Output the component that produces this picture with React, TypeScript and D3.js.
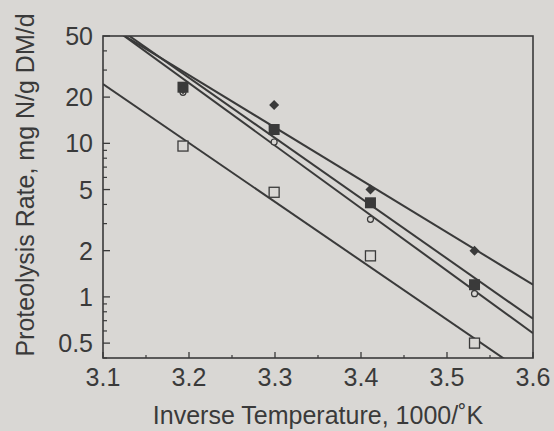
import React from "react";
import * as d3 from "d3";

const xTickValues = [3.1, 3.2, 3.3, 3.4, 3.5, 3.6];
const xMinorTicks = [3.15, 3.25, 3.35, 3.45, 3.55];
const yTickLabels = [0.5, 1, 2, 5, 10, 20, 50];
const yMinorTicks = [0.4, 0.6, 0.7, 0.8, 0.9, 3, 4, 6, 7, 8, 9, 30, 40];

const temps = [3.193, 3.299, 3.411, 3.532];
const diamondVals = [22.5, 17.8, 5.0, 2.0];
const filledSquareVals = [23.2, 12.3, 4.1, 1.2];
const openCircleVals = [21.5, 10.2, 3.2, 1.05];
const openSquareVals = [9.6, 4.8, 1.85, 0.5];

// regression lines: value at x=3.1 and x=3.6
const lineX = [3.1, 3.6];
const diamondLine = [61, 1.2];
const filledSquareLine = [66, 0.72];
const openCircleLine = [63, 0.58];
const openSquareLine = [24.3, 0.294];

const W = 554, H = 431;
const M = { left: 103, right: 533, top: 36, bottom: 358 };
const ink = "#3a3a3a";
const bg = "#d9d7d4";
const font = "'Liberation Sans', Arial, sans-serif";

export default function App() {
  const x = d3.scaleLinear().domain([3.1, 3.6]).range([M.left, M.right]);
  const y = d3.scaleLog().domain([0.4, 50]).range([M.bottom, M.top]);
  const line = d3.line<[number, number]>().x(d => x(d[0])).y(d => y(d[1]));
  const lines = [diamondLine, filledSquareLine, openCircleLine, openSquareLine];

  return (
    <svg width={W} height={H} style={{ position: "absolute", left: 0, top: 0, background: bg }}>
      <rect x={0} y={0} width={W} height={H} fill={bg} />
      <defs>
        <clipPath id="plot">
          <rect x={M.left} y={M.top} width={M.right - M.left} height={M.bottom - M.top} />
        </clipPath>
      </defs>
      {/* frame */}
      <rect x={M.left} y={M.top} width={M.right - M.left} height={M.bottom - M.top} fill="none" stroke={ink} strokeWidth={1.6} />
      {/* x ticks */}
      {xTickValues.map(v => (
        <g key={"xt" + v}>
          <line x1={x(v)} x2={x(v)} y1={M.bottom} y2={M.bottom - 6} stroke={ink} strokeWidth={1.3} />
          <text x={x(v)} y={M.bottom + 28} textAnchor="middle" fontSize={25} fontFamily={font} fill={ink}>{v.toFixed(1)}</text>
        </g>
      ))}
      {xMinorTicks.map(v => (
        <line key={"xm" + v} x1={x(v)} x2={x(v)} y1={M.bottom} y2={M.bottom - 3} stroke={ink} strokeWidth={1.2} />
      ))}
      {/* y ticks */}
      {yTickLabels.map(v => (
        <g key={"yt" + v}>
          <line x1={M.left} x2={M.left + 7} y1={y(v)} y2={y(v)} stroke={ink} strokeWidth={1.3} />
          <text x={M.left - 10} y={y(v) + 9} textAnchor="end" fontSize={25} fontFamily={font} fill={ink}>{v}</text>
        </g>
      ))}
      {yMinorTicks.map(v => (
        <line key={"ym" + v} x1={M.left} x2={M.left + 4} y1={y(v)} y2={y(v)} stroke={ink} strokeWidth={1.2} />
      ))}
      {/* regression lines */}
      <g clipPath="url(#plot)">
        {lines.map((l, i) => (
          <path key={"l" + i} d={line(lineX.map((xv, j) => [xv, l[j]]) as [number, number][]) || ""} fill="none" stroke={ink} strokeWidth={2} />
        ))}
      </g>
      {/* markers */}
      {temps.map((t, i) => (
        <rect key={"os" + i} x={x(t) - 5} y={y(openSquareVals[i]) - 5} width={10} height={10} fill={bg} stroke={ink} strokeWidth={1.3} />
      ))}
      {temps.map((t, i) => (
        <circle key={"oc" + i} cx={x(t)} cy={y(openCircleVals[i])} r={3} fill={bg} stroke={ink} strokeWidth={1.2} />
      ))}
      {temps.map((t, i) => (
        <rect key={"fs" + i} x={x(t) - 5.5} y={y(filledSquareVals[i]) - 5.5} width={11} height={11} fill={ink} />
      ))}
      {temps.map((t, i) => {
        const cx = x(t), cy = y(diamondVals[i]), r = 5;
        return <path key={"d" + i} d={`M${cx},${cy - r}L${cx + r},${cy}L${cx},${cy + r}L${cx - r},${cy}Z`} fill={ink} />;
      })}
      {/* axis titles */}
      <text x={318} y={424} textAnchor="middle" fontSize={25} fontFamily={font} fill={ink}>Inverse Temperature, 1000/˚K</text>
      <text transform={`translate(34,185) rotate(-90)`} textAnchor="middle" fontSize={25} fontFamily={font} fill={ink}>Proteolysis Rate, mg N/g DM/d</text>
    </svg>
  );
}
